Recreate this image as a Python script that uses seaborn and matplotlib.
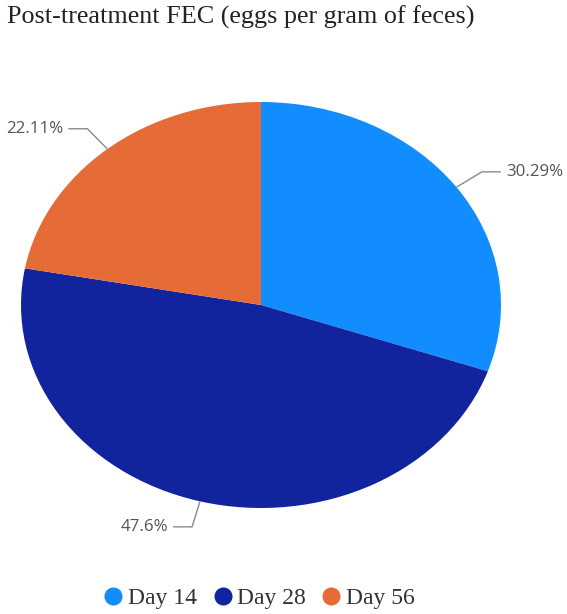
import numpy as np
import matplotlib
matplotlib.use("Agg")
import matplotlib.pyplot as plt
import seaborn as sns
from matplotlib.lines import Line2D

categories = ["Day 14", "Day 28", "Day 56"]
values = [30.29, 47.6, 22.11]
labels = ["30.29%", "47.6%", "22.11%"]
colors = ["#118DFF", "#12239E", "#E66C37"]
title = "Post-treatment FEC (eggs per gram of feces)"

sns.set_theme(style="white")
W, H = 567, 614
fig = plt.figure(figsize=(W / 100, H / 100), dpi=100)
fig.patch.set_facecolor("white")

# pie area (pixels): x 21..501, y 102..508
ax = fig.add_axes([21 / W, 1 - 508 / H, 480 / W, 406 / H])
wedges, _ = ax.pie(values, colors=colors, startangle=90, counterclock=False,
                   radius=1, wedgeprops=dict(linewidth=0))
ax.set_xlim(-1, 1)
ax.set_ylim(-1, 1)
ax.set_aspect("auto")
ax.axis("off")

# leader lines and labels
sx = 1 / 240.0  # data units per pixel (x)
sy = 1 / 203.0
for w, lab in zip(wedges, labels):
    ang = np.deg2rad((w.theta1 + w.theta2) / 2)
    ex, ey = np.cos(ang), np.sin(ang)
    bx, by = 1.13 * ex, 1.13 * ey
    side = 1 if ex > 0 else -1
    hx = bx + side * 19 * sx
    ax.plot([ex, bx, hx], [ey, by, by], color="#8a8a8a", lw=1.0,
            clip_on=False, solid_capstyle="butt")
    ax.text(hx + side * 5 * sx, by, lab, ha="left" if side > 0 else "right",
            va="center", fontsize=12.2, color="#555555", family="Open Sans",
            clip_on=False)

fig.text(7 / W, 1 - 24 / H, title, ha="left", va="baseline",
         family="Liberation Serif", fontsize=18.8, color="#222222")

handles = [Line2D([0], [0], marker="o", linestyle="none", markersize=12,
                  markerfacecolor=c, markeredgecolor=c) for c in colors]
leg = fig.legend(handles, categories, loc="center",
                 bbox_to_anchor=(258 / W, 1 - 598 / H), ncol=3, frameon=False,
                 handletextpad=0.1, columnspacing=0.6, handlelength=1.0,
                 prop=dict(family="Liberation Serif", size=17))
for t in leg.get_texts():
    t.set_color("#333333")

fig.savefig("out.png", dpi=100, facecolor="white")
